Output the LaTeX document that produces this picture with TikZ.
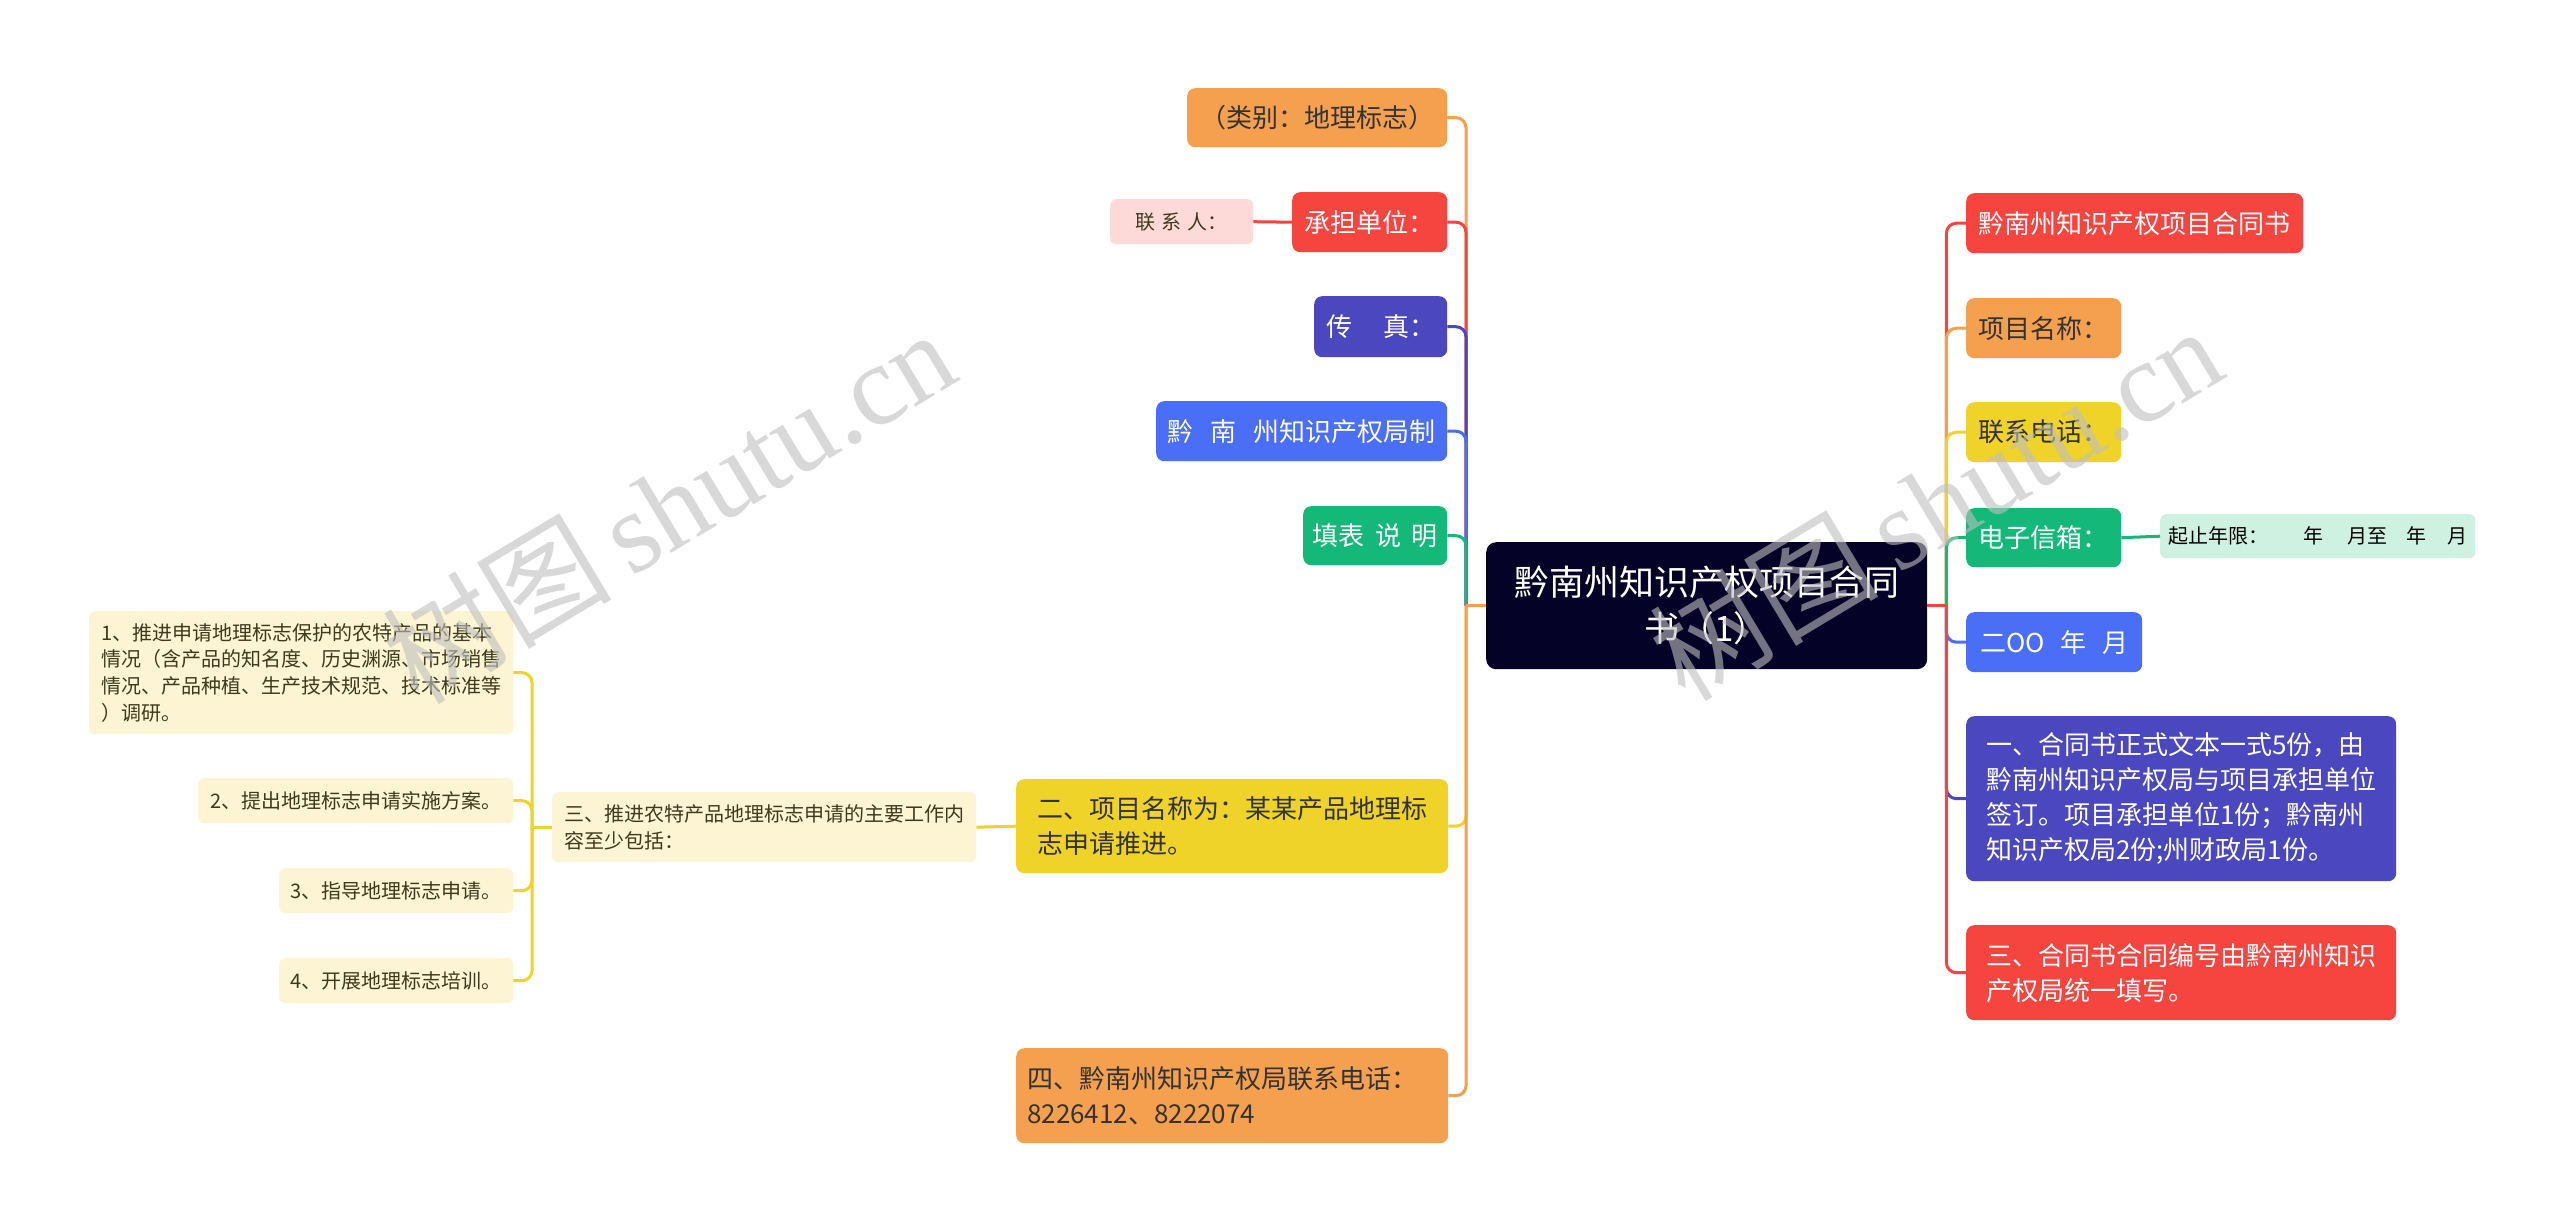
\documentclass[tikz,border=0pt]{standalone}
\usepackage{fontspec}
\setmainfont{Noto Sans CJK SC}
\newfontfamily\wmserif{Liberation Serif}
\definecolor{cOrange}{HTML}{F5A04E}
\definecolor{cRed}{HTML}{F6443E}
\definecolor{cIndigo}{HTML}{4B48BF}
\definecolor{cBlue}{HTML}{4A6EF5}
\definecolor{cGreen}{HTML}{14B97A}
\definecolor{cYellow}{HTML}{F0D328}
\definecolor{cNavy}{HTML}{050228}
\definecolor{cPink}{HTML}{FDD9D8}
\definecolor{cMint}{HTML}{CFF1E1}
\definecolor{cCream}{HTML}{FCF4D2}
\definecolor{cDark}{HTML}{333333}
\definecolor{cOlive}{HTML}{3E3A1E}
\tikzset{
  box/.style={rectangle, rounded corners=8pt, inner xsep=8pt, inner ysep=0pt, align=left, anchor=north west, draw=none},
  big/.style={box, font=\fontsize{26}{35}\selectfont},
  small/.style={box, rounded corners=6pt, font=\fontsize{20}{26.7}\selectfont},
  conn/.style={line width=3pt, rounded corners=10pt},
  wm/.style={text=black!25, opacity=0.6, font=\fontsize{115}{120}\selectfont},
}
\begin{document}
\begin{tikzpicture}[x=1pt,y={(0pt,-1pt)}]
\fill[white] (0,0) rectangle (2560,1231);
\useasboundingbox (0,0) rectangle (2560,1231);

% central
\node[box, rounded corners=10pt, fill=cNavy, text=white, align=center,
  font=\fontsize{35}{46}\selectfont, minimum width=441pt, minimum height=127pt] (C) at (1486,542)
  {黔南州知识产权项目合同\\书（1）};

% left level 1
\node[big, fill=cOrange, text=cDark, minimum width=260pt, minimum height=59pt] (L1) at (1187,88) {（类别：地理标志）};
\node[big, fill=cRed, text=white, minimum width=155pt, minimum height=60pt] (L2) at (1292,192) {承担单位：};
\node[small, fill=cPink, text=cOlive, minimum width=143pt, minimum height=45pt] (L2a) at (1110,199) {联\hspace{0.3em}系\hspace{0.3em}人：};
\node[big, fill=cIndigo, text=white, minimum width=133pt, minimum height=61pt] (L3) at (1314,296) {传\hspace{1.2em}真：};
\node[big, fill=cBlue, text=white, minimum width=291pt, minimum height=60pt] (L4) at (1156,401) {黔\hspace{0.65em}南\hspace{0.65em}州知识产权局制};
\node[big, fill=cGreen, text=white, minimum width=144pt, minimum height=59pt] (L5) at (1303,506) {填表\hspace{0.4em}说\hspace{0.4em}明};
\node[big, fill=cYellow, text=cDark, minimum width=432pt, minimum height=94pt] (P2) at (1016,779) {二、项目名称为：某某产品地理标\\志申请推进。};
\node[big, fill=cOrange, text=cDark, minimum width=432pt, minimum height=95pt] (P4) at (1016,1048) {四、黔南州知识产权局联系电话：\\8226412、8222074\phantom{某某某某某某某}};

% left level 2/3
\node[small, fill=cCream, text=cOlive, minimum width=424pt, minimum height=70pt] (S3) at (552,792) {三、推进农特产品地理标志申请的主要工作内\\容至少包括：};
\node[small, fill=cCream, text=cOlive, minimum width=424pt, minimum height=123pt] (I1) at (89,611) {1、推进申请地理标志保护的农特产品的基本\\情况（含产品的知名度、历史渊源、市场销售\\情况、产品种植、生产技术规范、技术标准等\\）调研。};
\node[small, fill=cCream, text=cOlive, minimum width=315pt, minimum height=45pt] (I2) at (198,778) {2、提出地理标志申请实施方案。};
\node[small, fill=cCream, text=cOlive, minimum width=234pt, minimum height=45pt] (I3) at (279,868) {3、指导地理标志申请。};
\node[small, fill=cCream, text=cOlive, minimum width=234pt, minimum height=45pt] (I4) at (279,958) {4、开展地理标志培训。};

% right level 1
\node[big, fill=cRed, text=white, minimum width=337pt, minimum height=60pt] (R1) at (1966,193) {黔南州知识产权项目合同书};
\node[big, fill=cOrange, text=cDark, minimum width=155pt, minimum height=60pt] (R2) at (1966,298) {项目名称：};
\node[big, fill=cYellow, text=cDark, minimum width=155pt, minimum height=60pt] (R3) at (1966,402) {联系电话：};
\node[big, fill=cGreen, text=white, minimum width=155pt, minimum height=59pt] (R4) at (1966,508) {电子信箱：};
\node[small, fill=cMint, text=black, minimum width=312pt, minimum height=44pt] (R4a) at (2160,514) {起止年限：\hspace{1.75em}年\hspace{1.2em}月至\hspace{0.95em}年\hspace{1.05em}月};
\node[big, fill=cBlue, text=white, minimum width=176pt, minimum height=60pt] (R5) at (1966,612) {二OO\hspace{0.6em}年\hspace{0.6em}月};
\node[big, fill=cIndigo, text=white, minimum width=430pt, minimum height=165pt] (R6) at (1966,716) {一、合同书正式文本一式5份，由\\黔南州知识产权局与项目承担单位\\签订。项目承担单位1份；黔南州\\知识产权局2份;州财政局1份。};
\node[big, fill=cRed, text=white, minimum width=430pt, minimum height=95pt] (R7) at (1966,925) {三、合同书合同编号由黔南州知识\\产权局统一填写。};

% junctions
\coordinate (jL) at ([xshift=-20pt]C.west);
\coordinate (jR) at ([xshift=19pt]C.east);
\coordinate (j3) at ([xshift=-20pt]S3.west);

% left connectors (top to bottom)
\draw[conn, cOrange] (jL) |- (L1.east);
\draw[conn, cRed] (jL) |- (L2.east);
\draw[conn, cIndigo] (jL) |- (L3.east);
\draw[conn, cBlue] (jL) |- (L4.east);
\draw[conn, cGreen] (jL) |- (L5.east);
\draw[conn, cYellow] (jL) |- (P2.east);
\draw[conn, cOrange] (jL) |- (P4.east);
\draw[conn, cOrange] (C.west) -- (jL);
\draw[conn, cRed] (L2.west) -- (L2a.east);

% sub-branch connectors
\draw[conn, cYellow] (P2.west) -- (S3.east);
\draw[conn, cYellow] (j3) |- (I1.east);
\draw[conn, cYellow] (j3) |- (I2.east);
\draw[conn, cYellow] (j3) |- (I3.east);
\draw[conn, cYellow] (j3) |- (I4.east);
\draw[conn, cYellow] (S3.west) -- (j3);

% right connectors (top to bottom)
\draw[conn, cRed] (jR) |- (R1.west);
\draw[conn, cOrange] (jR) |- (R2.west);
\draw[conn, cYellow] (jR) |- (R3.west);
\draw[conn, cGreen] (jR) |- (R4.west);
\draw[conn, cBlue] (jR) |- (R5.west);
\draw[conn, cIndigo] (jR) |- (R6.west);
\draw[conn, cRed] (jR) |- (R7.west);
\draw[conn, cRed] (C.east) -- (jR);
\draw[conn, cGreen] (R4.east) -- (R4a.west);

% watermarks
\node[wm, rotate=31] (W1) at (668,505) {树图\,{\wmserif shutu.cn}};
\node[wm, rotate=31] (W2) at (1935,502) {树图\,{\wmserif shutu.cn}};
\end{tikzpicture}
\end{document}
